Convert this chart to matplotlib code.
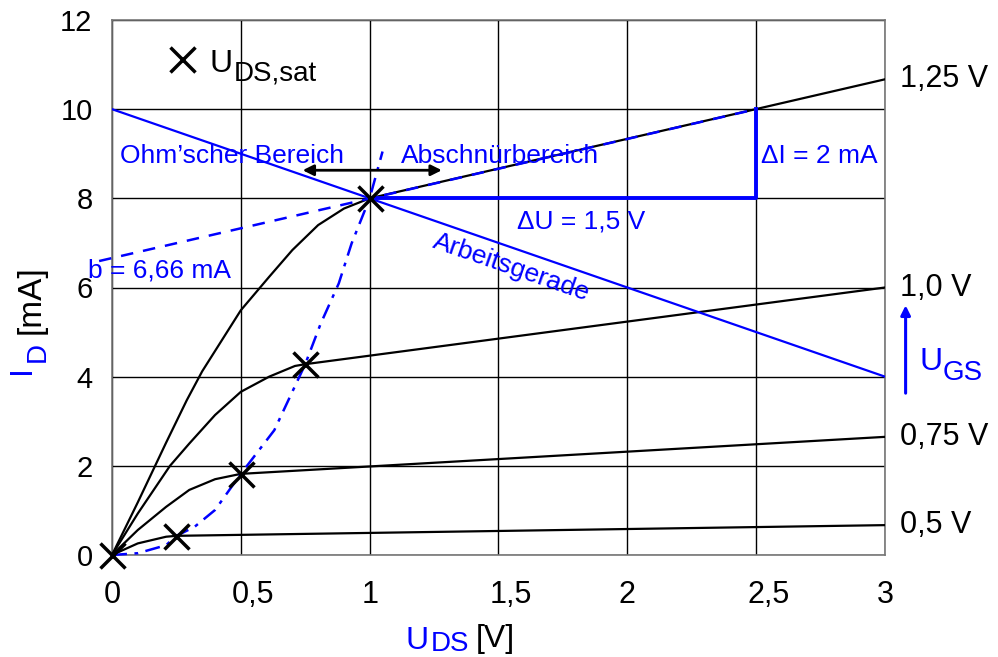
import numpy as np
import matplotlib
matplotlib.use("Agg")
import matplotlib.pyplot as plt
from matplotlib.transforms import ScaledTranslation

plt.rcParams['font.family'] = ['Liberation Sans', 'DejaVu Sans']

BLUE = '#0000ff'

# output characteristics (I_D in mA over U_DS in V) for each U_GS
x_125 = [0, 0.1, 0.21, 0.29, 0.35, 0.5, 0.61, 0.7, 0.8, 0.9, 1.0, 3.0]
y_125 = [0, 1.18, 2.52, 3.47, 4.12, 5.49, 6.24, 6.84, 7.4, 7.77, 8.0, 10.67]

x_100 = [0, 0.1, 0.225, 0.3, 0.4, 0.5, 0.61, 0.71, 0.75, 3.0]
y_100 = [0, 0.93, 2.0, 2.5, 3.14, 3.66, 4.0, 4.24, 4.28, 6.0]

x_075 = [0, 0.1, 0.21, 0.3, 0.4, 0.5, 3.0]
y_075 = [0, 0.56, 1.08, 1.46, 1.7, 1.82, 2.65]

x_050 = [0, 0.1, 0.21, 0.25, 3.0]
y_050 = [0, 0.26, 0.41, 0.43, 0.67]

curve_labels = ['1,25 V', '1,0 V', '0,75 V', '0,5 V']

# saturation points U_DS,sat
sat_x = [0, 0.25, 0.5, 0.75, 1.0]
sat_y = [0, 0.43, 1.82, 4.28, 8.0]

# boundary between ohmic and pinch-off region
bnd_x = [0, 0.1, 0.21, 0.25, 0.32, 0.4, 0.5, 0.63, 0.75, 0.81, 0.88, 0.93, 1.0, 1.05]
bnd_y = [0, 0.04, 0.22, 0.43, 0.63, 1.01, 1.82, 2.8, 4.28, 5.19, 6.09, 6.99, 8.0, 9.05]

# load line and tangent
load_x = [0, 3]
load_y = [10, 4]
tan_x = [-0.05, 2.5]
tan_y = [6.66 - 0.05 * 4 / 3, 10]
b_value = '6,66'

x_ticks = [0, 0.5, 1, 1.5, 2, 2.5, 3]
x_ticklabels = ['0', '0,5', '1', '1,5', '2', '2,5', '3']

fig = plt.figure(figsize=(9.98, 6.57), dpi=100)
ax = fig.add_axes([112 / 998, 1 - 555 / 657, 773 / 998, 535 / 657])

def ftext(px, py, s, **kw):
    fig.text(px / 998, 1 - py / 657, s, **kw)

ax.set_xlim(0, 3)
ax.set_ylim(0, 12)
ax.set_xticks(x_ticks)
ax.set_xticklabels(x_ticklabels)
ax.set_yticks(range(0, 13, 2))
ax.tick_params(length=0)
ax.tick_params(axis='x', pad=18, labelsize=22)
ax.tick_params(axis='y', pad=14, labelsize=21)
ax.grid(True, color='black', lw=1)
for s in ax.spines.values():
    s.set_color('#777777')
    s.set_linewidth(1.2)

# labels with a comma sit a bit to the right in the original
for lab in ax.get_xticklabels():
    if ',' in lab.get_text():
        lab.set_transform(lab.get_transform() +
                          ScaledTranslation(0.12, 0, fig.dpi_scale_trans))

curves = [(x_125, y_125), (x_100, y_100), (x_075, y_075), (x_050, y_050)]
for (xs, ys), lab in zip(curves, curve_labels):
    ax.plot(xs, ys, color='black', lw=1.6, zorder=3)
    ax.text(3.06, ys[-1], lab, fontsize=22, va='center', ha='left')

ax.plot(bnd_x, bnd_y, color=BLUE, lw=1.8, ls=(0, (6, 3, 1.5, 3)), zorder=3,
        clip_on=False)
ax.plot(load_x, load_y, color=BLUE, lw=1.6, zorder=3)
ax.plot(tan_x, tan_y, color=BLUE, lw=1.8, ls=(0, (5, 4)), zorder=3, clip_on=False)
ax.plot([1, 2.5, 2.5], [8, 8, 10], color=BLUE, lw=2.8, zorder=3)
ax.plot(sat_x, sat_y, ls='none', marker='x', ms=18, mew=2.5, color='black',
        zorder=5, clip_on=False)

# double arrow between regions
ax.annotate('', xy=(1.28, 8.63), xytext=(0.74, 8.63),
            arrowprops=dict(arrowstyle='<|-|>', color='black', lw=2,
                            mutation_scale=16, shrinkA=0, shrinkB=0))

# U_GS arrow
ax.annotate('', xy=(3.08, 5.6), xytext=(3.08, 3.63), annotation_clip=False,
            arrowprops=dict(arrowstyle='-|>', color=BLUE, lw=2.2,
                            mutation_scale=14, shrinkA=0, shrinkB=0))

ax.text(0.03, 8.95, 'Ohm\u2019scher Bereich', color=BLUE, fontsize=19, va='center')
ax.text(1.12, 8.95, 'Abschnürbereich', color=BLUE, fontsize=19, va='center')
ax.text(2.52, 8.95, '\u0394I = 2 mA', color=BLUE, fontsize=19, va='center')
ax.text(1.82, 7.47, '\u0394U = 1,5 V', color=BLUE, fontsize=19, va='center', ha='center')
ax.text(-0.093, 6.39, 'b = ' + b_value + ' mA', color=BLUE,
        fontsize=19, va='center', clip_on=False)

p1 = ax.transData.transform((load_x[0], load_y[0]))
p2 = ax.transData.transform((load_x[1], load_y[1]))
ang = np.degrees(np.arctan2(p2[1] - p1[1], p2[0] - p1[0]))
ax.text(1.55, 6.45, 'Arbeitsgerade', color=BLUE, fontsize=19, rotation=ang,
        rotation_mode='anchor', ha='center', va='center')

# legend for saturation marker
ax.plot([0.272], [11.12], marker='x', ms=18, mew=2.5, color='black')
ftext(209, 72, 'U', fontsize=23, va='baseline')
ftext(234, 81, 'DS,sat', fontsize=20, va='baseline')

# U_GS label
ftext(920, 370, 'U', fontsize=23, color=BLUE, va='baseline')
ftext(943, 380, 'GS', fontsize=20, color=BLUE, va='baseline')

# axis labels
ftext(406, 649, 'U', fontsize=23, color=BLUE, va='baseline')
ftext(431, 651, 'DS', fontsize=20, color=BLUE, va='baseline')
ftext(476, 647, '[V]', fontsize=23, va='baseline')

ftext(22, 370, 'I', fontsize=23, color=BLUE, va='center', ha='center', rotation=90)
ftext(38, 352, 'D', fontsize=20, color=BLUE, va='center', ha='center', rotation=90)
ftext(31, 300, '[mA]', fontsize=24, va='center', ha='center', rotation=90)

fig.savefig('out.png', dpi=100)
